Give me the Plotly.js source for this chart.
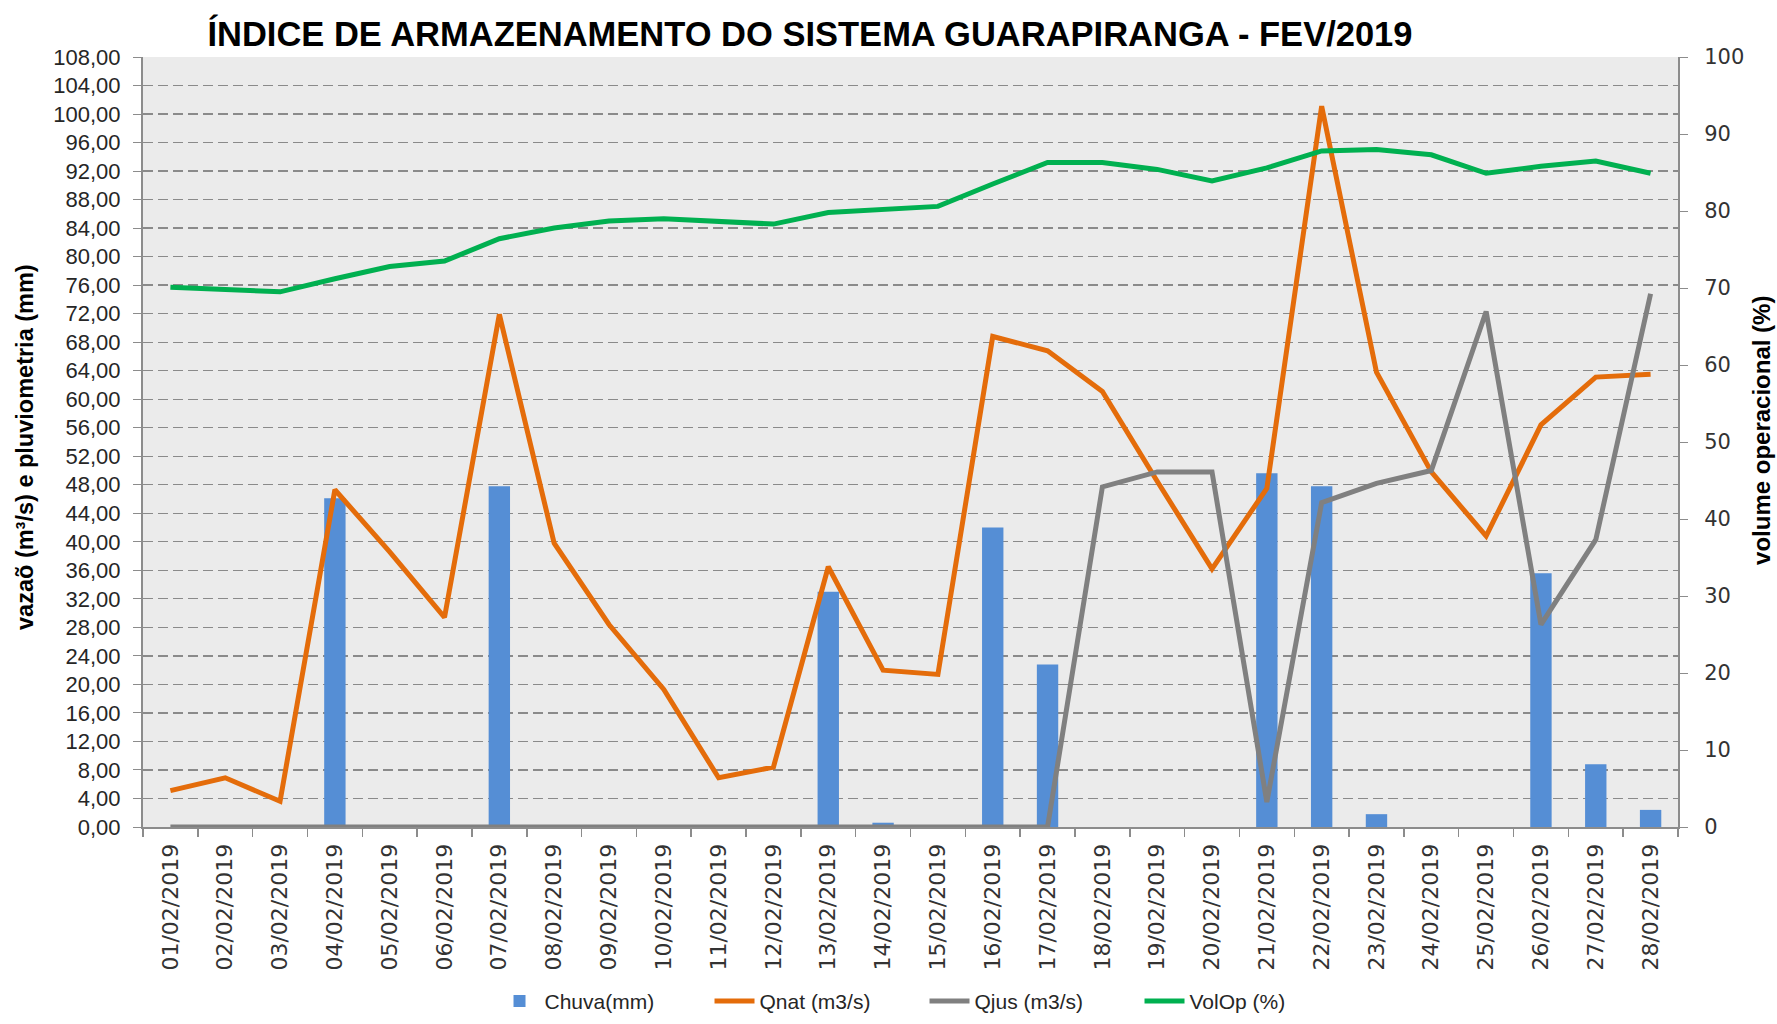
<!DOCTYPE html>
<html>
<head>
<meta charset="utf-8">
<script src="https://cdn.plot.ly/plotly-3.0.1.min.js"></script>
<style>html,body{margin:0;padding:0;background:#fff;}#chart{width:1777px;height:1024px;}</style>
</head>
<body>
<div id="chart"></div>
<script>
var dates = ["01/02/2019","02/02/2019","03/02/2019","04/02/2019","05/02/2019","06/02/2019","07/02/2019",
  "08/02/2019","09/02/2019","10/02/2019","11/02/2019","12/02/2019","13/02/2019","14/02/2019",
  "15/02/2019","16/02/2019","17/02/2019","18/02/2019","19/02/2019","20/02/2019","21/02/2019",
  "22/02/2019","23/02/2019","24/02/2019","25/02/2019","26/02/2019","27/02/2019","28/02/2019"];
var chuva = [0,0,0,46.1,0,0,47.8,0,0,0,0,0,33.0,0.6,0,42.0,22.8,0,0,0,49.6,47.8,1.8,0,0,35.6,8.8,2.4];
var qnat = [5.1,6.9,3.6,47.3,38.6,29.4,71.9,39.8,28.4,19.3,6.9,8.4,36.5,22.0,21.4,68.8,66.8,61.1,48.5,36.2,47.5,101.1,63.8,49.8,40.8,56.4,63.1,63.5];
var qjus = [0,0,0,0,0,0,0,0,0,0,0,0,0,0,0,0,0,47.7,49.8,49.8,3.5,45.5,48.2,50.0,72.3,28.4,40.3,74.8];
var volop = [70.1,69.8,69.5,71.2,72.8,73.5,76.4,77.8,78.7,79.0,78.7,78.3,79.8,80.2,80.6,83.5,86.3,86.3,85.4,83.9,85.6,87.8,88.0,87.3,84.9,85.8,86.5,84.9];

var names = ["Chuva(mm)","Qnat (m3/s)","Qjus (m3/s)","VolOp (%)"];
var titleText = "ÍNDICE DE ARMAZENAMENTO DO SISTEMA GUARAPIRANGA - FEV/2019";
var yTitleLeft = "vazaõ (m³/s) e pluviometria (mm)";
var yTitleRight = "volume operacional (%)";

var traces = [
  {type:"bar", x:dates, y:chuva, name:names[0], marker:{color:"#558ED5"}, width:0.39, yaxis:"y"},
  {type:"scatter", mode:"lines", x:dates, y:qnat, name:names[1], line:{color:"#E46C0A", width:5}, yaxis:"y"},
  {type:"scatter", mode:"lines", x:dates, y:qjus, name:names[2], line:{color:"#808080", width:5}, yaxis:"y"},
  {type:"scatter", mode:"lines", x:dates, y:volop, name:names[3], line:{color:"#00B050", width:5}, yaxis:"y2"}
];

var layout = {
  width:1777, height:1024,
  margin:{l:143, r:99, t:57, b:197, pad:0, autoexpand:false},
  paper_bgcolor:"#ffffff",
  plot_bgcolor:"#EBEBEB",
  separators:",.",
  showlegend:true,
  font:{family:"Liberation Sans, Arial, sans-serif", color:"#262626"},
  title:{text:titleText, font:{family:"Liberation Sans, Arial, sans-serif", size:34.5, color:"#000000", weight:"bold"},
         x:0.4558, xref:"container", xanchor:"center", y:0.967, yref:"container", yanchor:"middle"},
  xaxis:{type:"category", showline:true, linecolor:"#8c8c8c", linewidth:2, ticks:"outside", ticklen:8,
         tickcolor:"#8c8c8c", tickwidth:1.5, tickson:"boundaries", tickangle:-90, showgrid:false, automargin:false,
         ticklabelstandoff:6,
         tickfont:{family:"DejaVu Sans, sans-serif", size:22, color:"#333333"}, range:[-0.5,27.5]},
  yaxis:{range:[0,108], dtick:4, tick0:0, tickformat:".2f", showline:true, linecolor:"#8c8c8c", linewidth:2,
         ticks:"outside", ticklen:8, tickcolor:"#8c8c8c", showgrid:true, gridcolor:"#8a8a8a", gridwidth:1.3,
         griddash:"10px,5px", zeroline:false, automargin:false,
         tickfont:{family:"Liberation Sans, Arial, sans-serif", size:22, color:"#262626"},
         ticklabelstandoff:8},
  yaxis2:{range:[0,100], dtick:10, overlaying:"y", side:"right", showline:true, linecolor:"#8c8c8c", linewidth:2,
          ticks:"outside", ticklen:8, tickcolor:"#8c8c8c", showgrid:false, zeroline:false, automargin:false,
          tickfont:{family:"DejaVu Sans, sans-serif", size:21, color:"#333333"}, ticklabelstandoff:12},
  legend:{orientation:"h", x:0.229, xanchor:"left", y:-0.2532, yanchor:"bottom", entrywidth:160, entrywidthmode:"pixels",
          font:{family:"Liberation Sans, Arial, sans-serif", size:21, color:"#262626"}, traceorder:"normal", itemwidth:40},
  annotations:[
    {text:yTitleLeft, textangle:-90, xref:"paper", yref:"paper", x:-0.0769, y:0.4935, xanchor:"center", yanchor:"middle",
     showarrow:false, font:{family:"Liberation Sans, Arial, sans-serif", size:23.5, color:"#000000", weight:"bold"}},
    {text:yTitleRight, textangle:-90, xref:"paper", yref:"paper", x:1.0547, y:0.5156, xanchor:"center", yanchor:"middle",
     showarrow:false, font:{family:"Liberation Sans, Arial, sans-serif", size:24, color:"#000000", weight:"bold"}}
  ],
  bargap:0.6
};

Plotly.newPlot("chart", traces, layout, {displayModeBar:false, staticPlot:true});
</script>
</body>
</html>
